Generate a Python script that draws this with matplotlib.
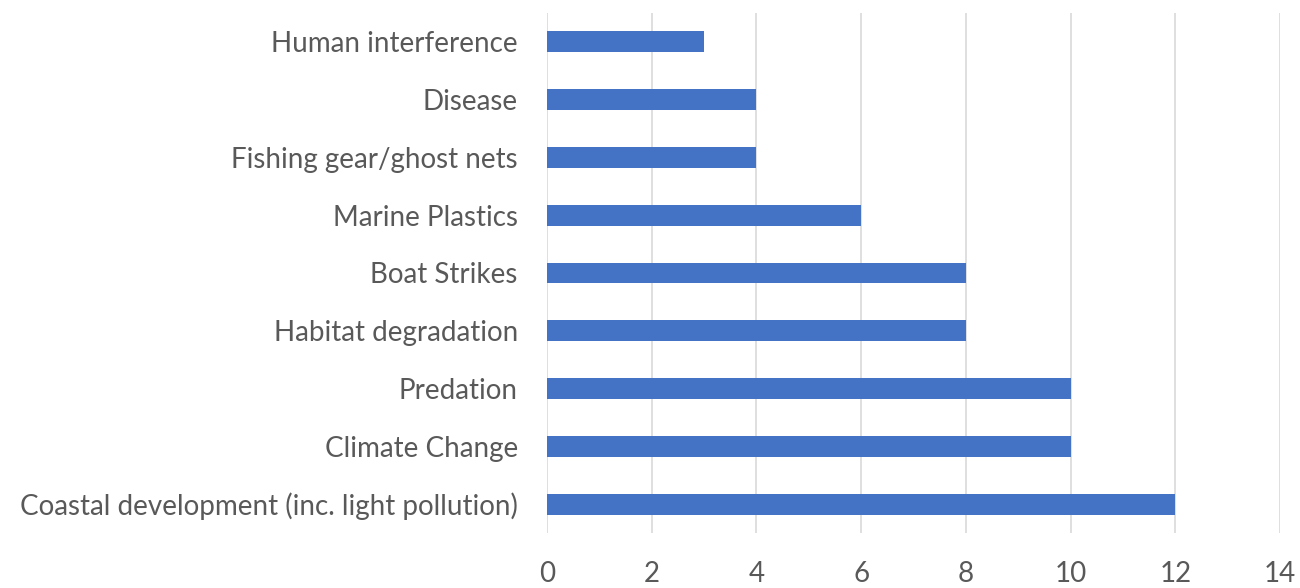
import matplotlib.pyplot as plt

# threats and number of mentions
threats = [
    "Coastal development (inc. light pollution)",
    "Climate Change",
    "Predation",
    "Habitat degradation",
    "Boat Strikes",
    "Marine Plastics",
    "Fishing gear/ghost nets",
    "Disease",
    "Human interference",
]
counts = [12, 10, 10, 8, 8, 6, 4, 4, 3]
xticks = [0, 2, 4, 6, 8, 10, 12, 14]

plt.rcParams['font.family'] = ['Lato', 'DejaVu Sans']

fig = plt.figure(figsize=(13, 5.88), dpi=100)
ax = fig.add_axes([0.4208, 0.0935, 0.5638, 0.8845])

ax.barh(range(len(threats)), counts, height=0.36, color="#4472C4", zorder=3)

ax.set_xlim(0, 14)
ax.set_ylim(-0.5, len(threats) - 0.5)
ax.set_xticks(xticks)
ax.set_yticks(range(len(threats)))
ax.set_yticklabels(threats)
ax.grid(axis="x", color="#d9d9d9", linewidth=1.2, zorder=0)
ax.tick_params(axis="both", length=0, labelsize=20, colors="#595959")
ax.tick_params(axis="x", pad=20)
ax.tick_params(axis="y", pad=21)
for s in ax.spines.values():
    s.set_visible(False)

fig.savefig("out.png", dpi=100)
